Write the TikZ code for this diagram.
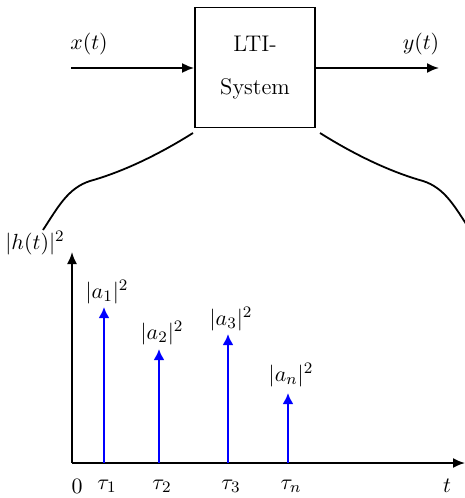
\documentclass[tikz,border=0pt]{standalone}
\usetikzlibrary{arrows.meta}
\begin{document}
\begin{tikzpicture}[x=0.5pt,y=-0.5pt,
  every node/.style={font=\fontsize{11.3}{13.5}\selectfont},
  conn/.style={line width=0.9pt,-{Latex[length=6pt,width=5pt]}},
  stem/.style={blue,line width=1.3pt,-{Latex[length=5.5pt,width=5.5pt]}},
  blk/.style={draw,line width=0.9pt,minimum width=60pt,minimum height=60pt,align=center,inner sep=0pt},
  lbl/.style={inner sep=1pt}]
\useasboundingbox (0,0) rectangle (465,498);
\clip (0,0) rectangle (465,498);
% block
\node[blk] (sys) at (255,67.5) {LTI-\\[8pt]System};
\coordinate (in) at (71,68);
\coordinate (out) at (439,68);
\draw[conn] (in) -- (sys.west |- in);
\draw[conn] (sys.east |- out) -- (out);
\node[lbl] (xl) at (89,44) {$x(t)$};
\node[lbl] (yl) at (421,44) {$y(t)$};
% zoom curves
\draw[line width=0.9pt] (193,133) .. controls (150,160) and (115,174) .. (90,181)
  .. controls (68,188) and (58,207) .. (43,230);
\draw[line width=0.9pt] (320,133) .. controls (363,160) and (398,174) .. (423,181)
  .. controls (445,188) and (455,207) .. (470,230);
% axes
\coordinate (o) at (72,463);
\coordinate (ytop) at (72,252);
\coordinate (xend) at (465,463);
\draw[conn] (o) -- (ytop);
\draw[conn] (o) -- (xend);
\node[lbl] (hl) at (35,243) {$|h(t)|^2$};
\node[lbl] (zero) at (77,486) {$0$};
\node[lbl] (tl) at (447,486) {$t$};
% stems
\foreach \n/\x/\top/\tl/\al/\ly in {1/104/307/\tau_1/|a_1|^2/292, 2/159/349/\tau_2/|a_2|^2/333, 3/228/334/\tau_3/|a_3|^2/319, n/288/393/\tau_n/|a_n|^2/375}{
  \coordinate (b\n) at (\x,463);
  \coordinate (t\n) at (\x,\top);
  \draw[stem] (b\n) -- (t\n);
  \node[lbl] (tau\n) at (\x+3,486) {$\tl$};
  \node[lbl] (a\n) at (\x+3,\ly) {$\al$};
}
\end{tikzpicture}
\end{document}
